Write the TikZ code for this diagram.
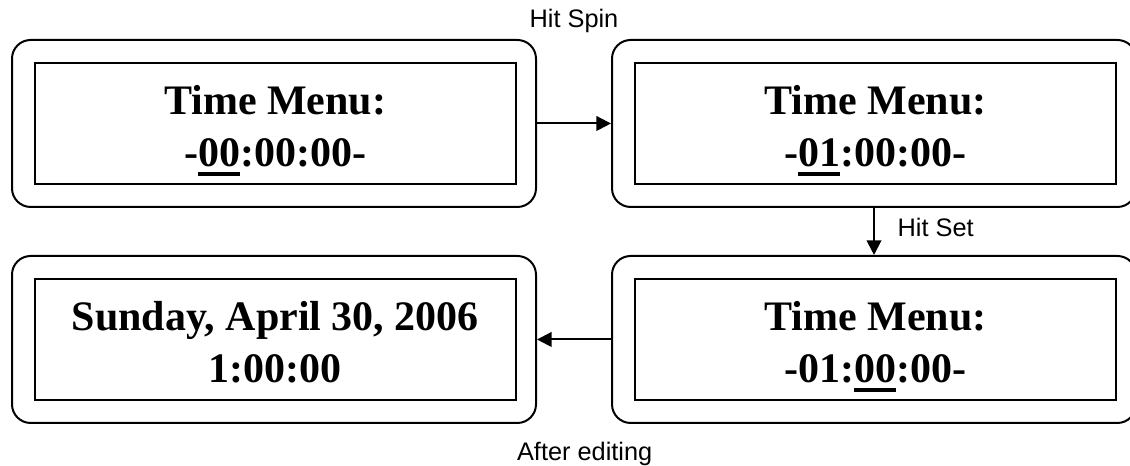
\documentclass[tikz,border=0pt]{standalone}
\usepackage{fontspec}
\setmainfont{Liberation Serif}
\setsansfont{Liberation Sans}
\usetikzlibrary{arrows.meta}

\newcommand{\digitmark}[1]{\setbox0\hbox{#1}\rlap{\rule[-6.75pt]{\wd0}{3pt}}#1}
\newcommand{\lcdlines}[2]{\rule{0pt}{34.2pt}#1\\#2\rule[-8pt]{0pt}{8pt}}

\tikzstyle{screen} = [rectangle, rounded corners=14pt, minimum width=393pt, minimum height=125.25pt, draw=black]
\tikzstyle{lcd} = [rectangle, minimum width=360.75pt, minimum height=90.75pt, xshift=1pt, draw=black, align=center, font=\bfseries\fontsize{31.5}{39}\selectfont]
\tikzstyle{note} = [inner sep=0pt, font=\sffamily\fontsize{19}{22}\selectfont]

\begin{document}
\begin{tikzpicture}[node distance=450pt, line width=1.5pt, >={Triangle[length=11pt,width=11pt]}]

\useasboundingbox (0,0) rectangle (847.5pt,-348.75pt);

\node (screen1) [screen] at (205.5pt,-92.6pt) {};

\node (screen2) [screen, right of=screen1] {};

\node (screen3) [screen, below of=screen2, node distance=162pt] {};

\node (screen4) [screen, left of=screen3] {};

\node (lcd1) [lcd] at (screen1) {\lcdlines{Time Menu:}{-\digitmark{00}:00:00-}};

\node (lcd2) [lcd] at (screen2) {\lcdlines{Time Menu:}{-\digitmark{01}:00:00-}};

\node (lcd3) [lcd] at (screen3) {\lcdlines{Time Menu:}{-01:\digitmark{00}:00-}};

\node (lcd4) [lcd] at (screen4) {\lcdlines{Sunday, April 30, 2006}{1:00:00}};

\draw [->] (screen1) -- node [note, yshift=77pt] (spin) {Hit Spin} (screen2);
\draw [->] (screen2) -- node [note, right=17pt, yshift=3pt] (set) {Hit Set} (screen3);
\draw [->] (screen3) -- node [note, xshift=8pt, yshift=-85.5pt] (edit) {After editing} (screen4);
\end{tikzpicture}
\end{document}
